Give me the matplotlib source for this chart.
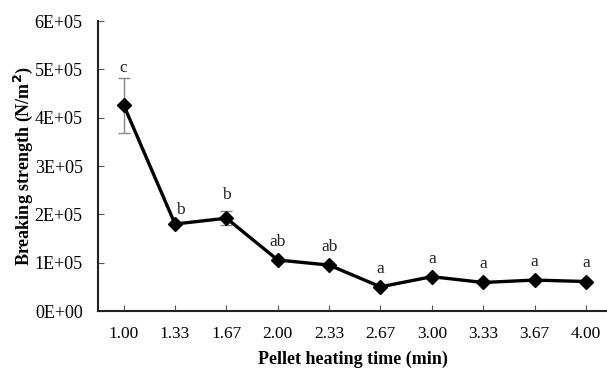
import matplotlib
matplotlib.use("Agg")
import matplotlib.pyplot as plt
import numpy as np

categories = ["1.00", "1.33", "1.67", "2.00", "2.33", "2.67", "3.00", "3.33", "3.67", "4.00"]
strength = [4.26e5, 1.80e5, 1.92e5, 1.055e5, 0.95e5, 0.50e5, 0.71e5, 0.59e5, 0.64e5, 0.61e5]
errors = [0.57e5, 0.0, 0.15e5, 0.0, 0.0, 0.0, 0.0, 0.0, 0.0, 0.0]
letters = ["c", "b", "b", "ab", "ab", "a", "a", "a", "a", "a"]
yticks = [0, 1e5, 2e5, 3e5, 4e5, 5e5, 6e5]
ytick_labels = ["0E+00", "1E+05", "2E+05", "3E+05", "4E+05", "5E+05", "6E+05"]

# per-label offsets in points (style)
label_dx = [0, 3.6, 0, 0, 0, 0, 0, 0, 0, 0]
label_dy = [7, 10, 11.5, 13, 13, 13, 13, 13, 13, 13]

plt.rcParams['font.family'] = ['Liberation Serif', 'DejaVu Serif']

fig = plt.figure(figsize=(6.07, 3.68), dpi=100)
ax = fig.add_axes([98/607, 57/368, 1 - 98/607, (311-21)/368])

x = np.arange(len(categories))
ax.errorbar(x, strength, yerr=errors, fmt='none', ecolor='#888888', elinewidth=1.0,
            capsize=4, capthick=1.0, zorder=2)
ax.plot(x, strength, color='black', linewidth=2.4, marker='D', markersize=7.5,
        markerfacecolor='black', markeredgecolor='black', zorder=3)

for i, (v, e, t) in enumerate(zip(strength, errors, letters)):
    ax.annotate(t, (x[i], v + e), xytext=(label_dx[i], label_dy[i]), textcoords='offset points',
                ha='center', va='center', fontsize=12.5, color='#222222')

ax.set_xlim(-0.5, 9.41)
ax.set_ylim(0, 6e5)
ax.set_xticks(x)
ax.set_xticklabels(categories, fontsize=12.5)
ax.set_yticks(yticks)
ax.set_yticklabels(ytick_labels, fontsize=13)
ax.tick_params(axis='both', direction='in', length=4, width=0.8, color='#555555')
ax.tick_params(axis='x', pad=11)
ax.tick_params(axis='y', pad=11)

for s in ['top', 'right']:
    ax.spines[s].set_visible(False)
for s in ['left', 'bottom']:
    ax.spines[s].set_linewidth(1.5)
    ax.spines[s].set_color('#222222')

ax.set_xlabel("Pellet heating time (min)", fontsize=13, fontweight='bold', labelpad=6)
ax.set_ylabel("Breaking strength (N/m$^\\mathbf{2}$)", fontsize=13, fontweight='bold', labelpad=0)

fig.savefig("out.png", dpi=100)
